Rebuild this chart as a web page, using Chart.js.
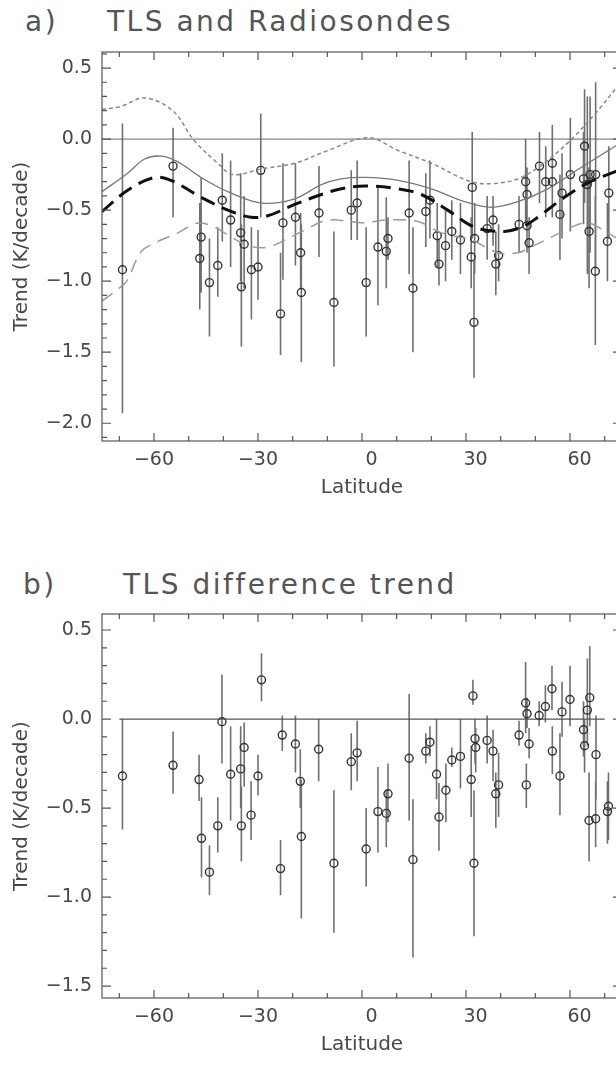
<!DOCTYPE html>
<html>
<head>
<meta charset="utf-8">
<script src="https://cdn.jsdelivr.net/npm/chart.js@4.4.0/dist/chart.umd.min.js"></script>
<style>
  html, body { margin: 0; padding: 0; background: #fff; overflow: hidden; }
  body { width: 616px; height: 1068px; position: relative; }
  .panel { position: absolute; left: 0; width: 630px; }
  .lbl { position: absolute; font-family: 'DejaVu Sans', sans-serif; color: #555;
         font-size: 28px; letter-spacing: 2.5px; white-space: nowrap; line-height: 1; }
</style>
</head>
<body>
<div class="lbl" style="left:25px; top:8px;">a)</div>
<div class="lbl" style="left:107px; top:8px;">TLS and Radiosondes</div>
<div class="panel" style="top:0; height:501px;"><canvas id="chartA"></canvas></div>
<div class="lbl" style="left:23px; top:571px;">b)</div>
<div class="lbl" style="left:123px; top:571px;">TLS difference trend</div>
<div class="panel" style="top:562px; height:496px;"><canvas id="chartB"></canvas></div>
<script>
// --- panel a: station trends (K/decade) with error bars ---
const latA   = [-69.1,-54.5,-46.8,-46.4,-44.0,-41.6,-40.3,-37.9,-35.0,-34.0,-34.8,-31.9,-30.0,-29.2,-22.8,-23.5,-19.2,-17.7,-17.5,-12.4,-8.1,-3.1,-1.4,1.2,4.6,7.0,7.5,13.6,14.7,18.4,19.6,21.7,22.2,24.1,25.9,28.4,31.8,32.5,31.5,32.3,36.1,37.8,39.4,38.6,45.3,47.2,47.6,47.6,48.2,51.2,53.0,54.9,54.9,57.7,57.1,60.1,64.2,63.9,65.8,65.0,67.4,65.5,67.3,71.2,70.8];
const trendA = [-0.92,-0.19,-0.84,-0.69,-1.01,-0.89,-0.43,-0.57,-0.66,-0.74,-1.04,-0.92,-0.90,-0.22,-0.59,-1.23,-0.55,-0.80,-1.08,-0.52,-1.15,-0.50,-0.45,-1.01,-0.76,-0.79,-0.70,-0.52,-1.05,-0.51,-0.43,-0.68,-0.88,-0.75,-0.65,-0.71,-0.34,-0.70,-0.83,-1.29,-0.63,-0.57,-0.82,-0.88,-0.60,-0.30,-0.39,-0.61,-0.73,-0.19,-0.30,-0.17,-0.30,-0.38,-0.53,-0.25,-0.05,-0.28,-0.25,-0.32,-0.25,-0.65,-0.93,-0.38,-0.72];
const hiA    = [0.11,0.08,-0.45,-0.27,-0.70,-0.62,-0.10,-0.15,-0.24,-0.40,-0.60,-0.62,-0.64,0.18,-0.17,-0.80,-0.17,-0.52,-0.60,-0.19,-0.65,-0.22,-0.15,-0.62,-0.34,-0.41,-0.55,-0.15,-0.62,-0.24,-0.15,-0.45,-0.70,-0.50,-0.43,-0.45,0.05,-0.45,-0.55,-0.85,-0.40,-0.40,-0.60,-0.65,-0.40,0.00,-0.20,-0.45,-0.55,0.05,-0.05,0.10,-0.10,-0.10,-0.25,0.15,0.35,0.05,0.30,0.30,0.40,-0.20,-0.40,-0.05,-0.45];
const loA    = [-1.93,-0.55,-1.20,-1.08,-1.39,-1.11,-0.72,-0.90,-1.00,-1.05,-1.46,-1.27,-1.13,-0.55,-0.99,-1.52,-0.89,-1.05,-1.57,-0.83,-1.60,-0.71,-0.71,-1.39,-1.17,-1.05,-0.85,-0.95,-1.50,-0.76,-0.70,-0.90,-1.03,-1.00,-0.85,-0.95,-0.70,-0.95,-1.05,-1.68,-0.85,-0.75,-1.00,-1.10,-0.80,-0.60,-0.60,-0.80,-0.95,-0.45,-0.55,-0.45,-0.55,-0.70,-0.85,-0.65,-0.45,-0.60,-0.80,-0.95,-0.90,-1.05,-1.45,-0.70,-1.00];

// --- panel a: zonal-mean curves ---
const shortDashLat   = [-75,-69.6,-62.7,-54.6,-48.4,-41.6,-37.3,-29,-19.4,-9.8,1.7,10.4,20,31.5,39.2,45.9,53.6,61.3,68,75];
const shortDashTrend = [0.21,0.23,0.29,0.20,-0.01,-0.17,-0.25,-0.21,-0.17,-0.08,0.01,-0.08,-0.17,-0.30,-0.31,-0.27,-0.15,0.02,0.20,0.41];
const solidLat       = [-75,-67.6,-62.7,-57.9,-53.1,-46.4,-38.7,-29,-19.4,-11.7,-6,0.8,10.4,20,29.6,37.3,45,53.6,63.2,75];
const solidTrend     = [-0.37,-0.24,-0.14,-0.12,-0.16,-0.27,-0.37,-0.45,-0.42,-0.32,-0.28,-0.27,-0.29,-0.35,-0.44,-0.48,-0.44,-0.35,-0.20,-0.02];
const thickDashLat   = [-75,-67.6,-59.9,-55.1,-46.4,-38.7,-32,-27.2,-19.4,-11.7,-6,0.8,10.4,17.1,24.7,32.5,41.1,46.9,50.7,58.4,65.1,75];
const thickDashTrend = [-0.51,-0.36,-0.27,-0.29,-0.41,-0.50,-0.55,-0.54,-0.46,-0.39,-0.35,-0.33,-0.35,-0.39,-0.50,-0.62,-0.65,-0.61,-0.55,-0.41,-0.31,-0.21];
const longDashLat    = [-75,-69,-67.6,-63.6,-58.8,-53.1,-47.3,-42.5,-39.7,-32.9,-27.2,-21.4,-15.7,-9.8,0.8,6.4,16.1,22.9,31.5,39.2,45,48.8,54.6,60.4,65.1,70.9,75];
const longDashTrend  = [-1.14,-1.03,-0.99,-0.79,-0.72,-0.66,-0.59,-0.62,-0.66,-0.75,-0.76,-0.70,-0.63,-0.57,-0.59,-0.57,-0.58,-0.66,-0.71,-0.80,-0.80,-0.76,-0.69,-0.62,-0.59,-0.66,-0.72];

// --- panel b: difference trends with error bars ---
const latB   = [-69.1,-54.5,-47.0,-46.3,-44.0,-41.6,-40.4,-37.9,-35.0,-34.8,-34.0,-32.0,-30.0,-29.0,-23.0,-23.5,-19.2,-17.8,-17.5,-12.5,-8.1,-3.1,-1.4,1.2,4.6,7.0,7.5,13.6,14.7,18.4,19.6,21.5,22.2,24.2,25.9,28.4,32.0,32.6,32.8,31.5,32.3,36.1,37.8,39.4,38.6,45.3,47.2,47.6,48.2,47.4,51.1,52.9,54.8,54.9,57.7,57.1,60.0,63.9,64.2,65.0,65.7,67.5,65.5,67.4,71.1,70.8];
const trendB = [-0.32,-0.26,-0.34,-0.67,-0.86,-0.60,-0.015,-0.31,-0.28,-0.60,-0.16,-0.54,-0.32,0.22,-0.09,-0.84,-0.14,-0.35,-0.66,-0.17,-0.81,-0.24,-0.19,-0.73,-0.52,-0.53,-0.42,-0.22,-0.79,-0.18,-0.13,-0.31,-0.55,-0.40,-0.23,-0.21,0.13,-0.11,-0.16,-0.34,-0.81,-0.12,-0.18,-0.37,-0.42,-0.09,0.09,0.03,-0.14,-0.37,0.02,0.07,0.17,-0.18,0.04,-0.32,0.11,-0.06,-0.15,0.05,0.12,-0.20,-0.57,-0.56,-0.49,-0.52];
const hiB    = [0.00,-0.07,-0.20,-0.44,-0.71,-0.44,0.25,-0.04,-0.04,-0.38,-0.02,-0.35,-0.20,0.37,0.02,-0.68,0.02,-0.17,-0.34,0.00,-0.40,-0.08,-0.01,-0.50,-0.27,-0.40,-0.25,0.14,-0.45,-0.08,-0.04,0.00,-0.36,-0.25,-0.16,0.00,0.22,0.00,-0.05,-0.15,-0.40,0.02,-0.06,-0.19,-0.30,-0.01,0.32,0.12,-0.05,-0.25,0.10,0.19,0.30,-0.04,0.21,-0.08,0.30,0.10,0.00,0.34,0.41,0.02,-0.30,-0.35,-0.30,-0.35];
const loB    = [-0.62,-0.42,-0.46,-0.89,-0.99,-0.75,-0.25,-0.57,-0.50,-0.80,-0.38,-0.68,-0.43,0.10,-0.18,-0.99,-0.30,-0.50,-1.12,-0.35,-1.20,-0.40,-0.35,-0.94,-0.75,-0.72,-0.58,-0.57,-1.34,-0.25,-0.21,-0.45,-0.74,-0.58,-0.27,-0.39,0.08,-0.25,-0.30,-0.55,-1.22,-0.25,-0.35,-0.55,-0.61,-0.15,-0.08,-0.05,-0.22,-0.50,-0.04,-0.02,0.05,-0.31,-0.10,-0.54,-0.04,-0.21,-0.30,-0.15,-0.04,-0.45,-0.80,-0.72,-0.68,-0.70];

// --- axes ---
const xTicks  = [-60, -30, 0, 30, 60];
const yTicksA = [-2.0, -1.5, -1.0, -0.5, 0.0, 0.5];
const yTicksB = [-1.5, -1.0, -0.5, 0.0, 0.5];

const FONT = "'DejaVu Sans', sans-serif";
const INK = '#484848';

const pts = (xs, ys) => xs.map((x, i) => ({ x, y: ys[i] }));

// vertical error bars, positioned through the chart scales
const errorBars = {
  id: 'errorBars',
  beforeDatasetsDraw(chart, args, opts) {
    if (!opts.lat) return;
    const { ctx, scales: { x, y } } = chart;
    ctx.save();
    ctx.strokeStyle = '#707070';
    ctx.lineWidth = 1.6;
    ctx.beginPath();
    opts.lat.forEach((lat, i) => {
      const px = x.getPixelForValue(lat);
      ctx.moveTo(px, y.getPixelForValue(opts.hi[i]));
      ctx.lineTo(px, y.getPixelForValue(opts.lo[i]));
    });
    ctx.stroke();
    ctx.restore();
  }
};

// IDL-style box with inward ticks on all sides
const idlFrame = {
  id: 'idlFrame',
  afterDraw(chart) {
    const { ctx, chartArea: a, scales: { x, y } } = chart;
    ctx.save();
    ctx.strokeStyle = '#555';
    ctx.lineWidth = 1.2;
    ctx.strokeRect(a.left, a.top, a.right - a.left, a.bottom - a.top);
    ctx.beginPath();
    for (let v = -70; v <= 70; v += 10) {
      const px = x.getPixelForValue(v);
      const len = v % 30 === 0 ? 8 : 5;
      ctx.moveTo(px, a.bottom); ctx.lineTo(px, a.bottom - len);
      ctx.moveTo(px, a.top); ctx.lineTo(px, a.top + len);
    }
    for (let k = Math.ceil(y.min * 10); k <= Math.floor(y.max * 10); k++) {
      const py = y.getPixelForValue(k / 10);
      const len = k % 5 === 0 ? 9 : 5;
      ctx.moveTo(a.left, py); ctx.lineTo(a.left + len, py);
      ctx.moveTo(a.right, py); ctx.lineTo(a.right - len, py);
    }
    ctx.stroke();
    ctx.restore();
  }
};

const fmtLat = v => (v < 0 ? '\u2212' + Math.abs(v) : '\u2003' + v);
const fmtTrend = v => (v < 0 ? '\u2212' : '') + Math.abs(v).toFixed(1);

function panelOptions(yMin, yMax, yTicks, bars) {
  return {
    responsive: true,
    maintainAspectRatio: false,
    animation: false,
    layout: { padding: { top: 52, right: 8, left: 0, bottom: 0 } },
    plugins: {
      legend: { display: false },
      tooltip: { enabled: false },
      errorBars: bars
    },
    scales: {
      x: {
        type: 'linear', min: -75, max: 75,
        grid: { display: false, drawTicks: false },
        border: { display: false },
        afterBuildTicks: s => { s.ticks = xTicks.map(v => ({ value: v })); },
        afterFit: s => { s.height = 60; },
        ticks: { padding: 8, maxRotation: 0, autoSkip: false, color: INK,
                 font: { family: FONT, size: 19 }, callback: fmtLat },
        title: { display: true, text: 'Latitude', color: INK,
                 font: { family: FONT, size: 20 }, padding: { top: 0, bottom: 1 } }
      },
      y: {
        type: 'linear', min: yMin, max: yMax,
        grid: { display: false, drawTicks: false },
        border: { display: false },
        afterBuildTicks: s => { s.ticks = yTicks.map(v => ({ value: v })); },
        afterFit: s => { s.width = 102; },
        ticks: { padding: 10, autoSkip: false, color: INK,
                 font: { family: FONT, size: 19 }, callback: fmtTrend },
        title: { display: true, text: 'Trend (K/decade)', color: INK,
                 font: { family: FONT, size: 20 }, padding: { top: 10, bottom: 0 } }
      }
    }
  };
}

const curve = (xs, ys, color, width, dash) => ({
  type: 'scatter', showLine: true, data: pts(xs, ys),
  borderColor: color, borderWidth: width, borderDash: dash,
  pointRadius: 0, tension: 0.35, fill: false
});

const stations = (xs, ys) => ({
  type: 'scatter', data: pts(xs, ys),
  pointRadius: 4, pointBorderWidth: 1.4,
  pointBorderColor: '#333', pointBackgroundColor: 'rgba(255,255,255,0)'
});

new Chart(document.getElementById('chartA'), {
  type: 'scatter',
  data: {
    datasets: [
      curve(thickDashLat, thickDashTrend, '#111', 3, [15, 8]),
      curve(solidLat, solidTrend, '#777', 1.3, []),
      curve(shortDashLat, shortDashTrend, '#888', 1.5, [4, 3]),
      curve(longDashLat, longDashTrend, '#9a9a9a', 1.5, [13, 8]),
      stations(latA, trendA),
      curve([-75, 75], [0, 0], '#666', 1, [])
    ]
  },
  options: panelOptions(-2.125, 0.613, yTicksA, { lat: latA, hi: hiA, lo: loA }),
  plugins: [errorBars, idlFrame]
});

new Chart(document.getElementById('chartB'), {
  type: 'scatter',
  data: {
    datasets: [
      stations(latB, trendB),
      curve([-70, 70], [0, 0], '#555', 1.2, [])
    ]
  },
  options: panelOptions(-1.567, 0.59, yTicksB, { lat: latB, hi: hiB, lo: loB }),
  plugins: [errorBars, idlFrame]
});
</script>
</body>
</html>
